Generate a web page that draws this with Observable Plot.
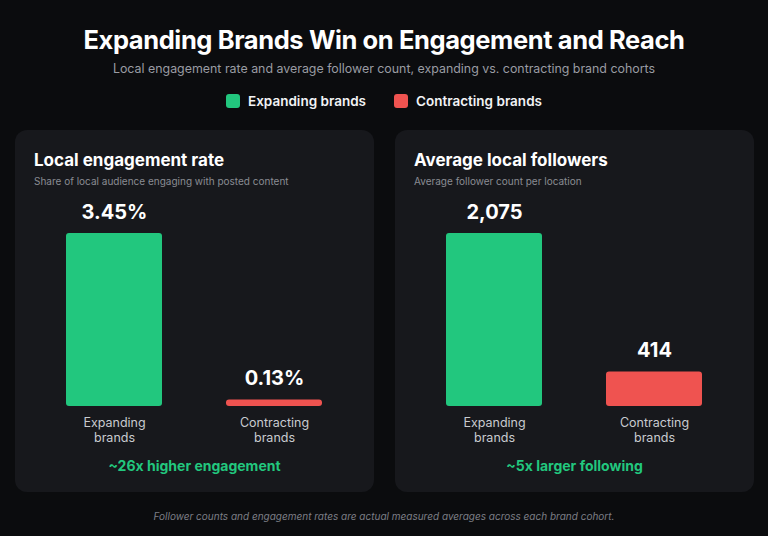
<!DOCTYPE html>
<html><head><meta charset="utf-8">
<script src="https://cdn.jsdelivr.net/npm/d3@7"></script>
<script src="https://cdn.jsdelivr.net/npm/@observablehq/plot@0.6"></script>
<style>
html,body{margin:0;padding:0;background:#0b0c0e;}
#root{position:relative;width:768px;height:536px;overflow:hidden;font-family:Inter,"Noto Sans",sans-serif;color:#fff;background:#0b0c0e;}
.title{position:absolute;left:0;right:0;top:25px;line-height:30px;text-align:center;font-size:25.5px;font-weight:700;letter-spacing:-0.4px;}
.subtitle{position:absolute;left:0;right:0;top:61px;line-height:16px;text-align:center;font-size:12.4px;color:#9a9ca3;}
.legend{position:absolute;left:0;right:0;top:93px;height:16px;display:flex;justify-content:center;gap:28px;font-size:13.5px;font-weight:600;color:#f2f3f5;}
.legend .item{display:flex;align-items:center;gap:8px;line-height:16px;}
.legend .sw{width:14px;height:14px;border-radius:3px;display:inline-block;}
.panel{position:absolute;top:130px;width:359px;height:362px;background:#17181c;border-radius:12px;}
.ptitle{position:absolute;left:19px;top:20px;line-height:20px;font-size:17px;font-weight:700;color:#fff;}
.psub{position:absolute;left:19px;top:45px;line-height:12px;font-size:10px;color:#8a8c93;}
.pplot{position:absolute;left:0;top:60px;}
.pnote{position:absolute;left:0;right:0;top:327px;line-height:18px;text-align:center;font-size:14px;font-weight:700;color:#22c77e;}
.footer{position:absolute;left:0;right:0;top:509px;line-height:14px;text-align:center;font-size:10px;font-style:italic;color:#7d7f86;}
</style></head>
<body><div id="root"></div>
<script>
// ---- data ----
const chartTitle = "Expanding Brands Win on Engagement and Reach";
const chartSubtitle = "Local engagement rate and average follower count, expanding vs. contracting brand cohorts";
const cohorts = ["Expanding brands", "Contracting brands"];
const cohortAxisLabels = ["Expanding\nbrands", "Contracting\nbrands"];
const engagementRate = [3.45, 0.13];      // %
const avgFollowers = [2075, 414];
const engagementLabels = ["3.45%", "0.13%"];
const followerLabels = ["2,075", "414"];
const panelTitles = ["Local engagement rate", "Average local followers"];
const panelSubtitles = ["Share of local audience engaging with posted content", "Average follower count per location"];
const panelNotes = ["~26x higher engagement", "~5x larger following"];
const footerText = "Follower counts and engagement rates are actual measured averages across each brand cohort.";

const colorRange = ["#22c77e", "#ef5350"];

const root = document.getElementById("root");
function el(cls, text, parent) {
  const d = document.createElement("div");
  d.className = cls;
  if (text != null) d.textContent = text;
  (parent || root).appendChild(d);
  return d;
}
el("title", chartTitle);
el("subtitle", chartSubtitle);
const legend = el("legend");
cohorts.forEach((c, i) => {
  const it = el("item", null, legend);
  const sw = document.createElement("span");
  sw.className = "sw";
  sw.style.background = colorRange[i];
  it.appendChild(sw);
  const t = document.createElement("span");
  t.textContent = c;
  it.appendChild(t);
});

const panelValues = [engagementRate, avgFollowers];
const panelLabels = [engagementLabels, followerLabels];
const panelLefts = [15, 395];

panelValues.forEach((vals, p) => {
  const panel = el("panel");
  panel.style.left = panelLefts[p] + "px";
  el("ptitle", panelTitles[p], panel);
  el("psub", panelSubtitles[p], panel);
  const data = cohorts.map((c, i) => ({cohort: c, value: vals[i], label: panelLabels[p][i]}));
  const chart = Plot.plot({
    width: 359,
    height: 260,
    marginLeft: 51,
    marginRight: 52,
    marginTop: 43,
    marginBottom: 44,
    style: {background: "transparent", color: "#c9cbd0", fontFamily: "Inter, 'Noto Sans', sans-serif"},
    x: {domain: cohorts, paddingInner: 0.4, paddingOuter: 0, axis: null, label: null},
    y: {domain: [0, d3.max(vals)], axis: null},
    color: {domain: cohorts, range: colorRange},
    marks: [
      Plot.barY(data, {x: "cohort", y: "value", fill: "cohort", rx: 3}),
      Plot.text(data, {x: "cohort", y: "value", text: "label", dy: -21, fill: "#ffffff", fontSize: 20, fontWeight: 700}),
      Plot.axisX({domain: cohorts, label: null, tickSize: 0, tickPadding: 10, fontSize: 12.5, lineHeight: 1.2, tickFormat: (d) => cohortAxisLabels[cohorts.indexOf(d)], fill: "#c9cbd0"})
    ]
  });
  const holder = el("pplot", null, panel);
  holder.appendChild(chart);
  el("pnote", panelNotes[p], panel);
});

el("footer", footerText);
</script>
</body></html>
